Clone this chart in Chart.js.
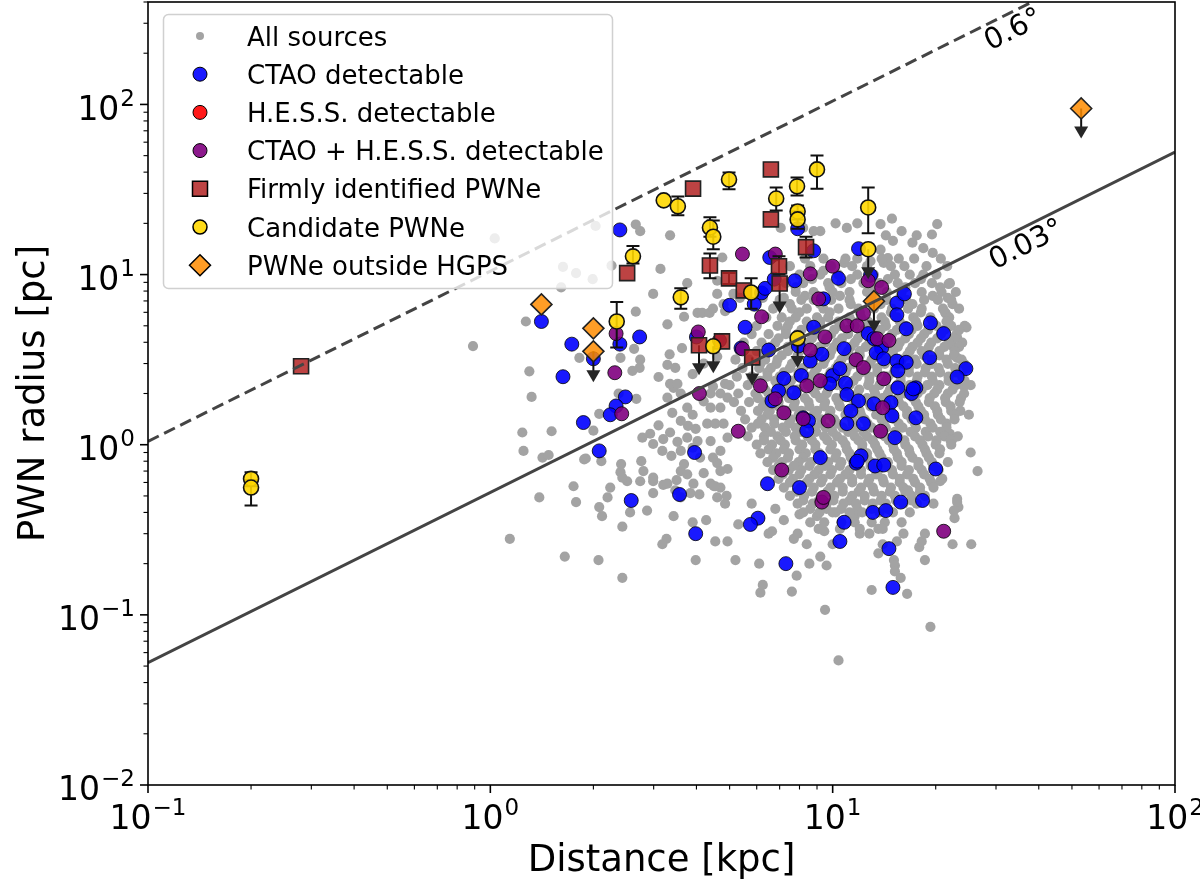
<!DOCTYPE html>
<html>
<head>
<meta charset="utf-8">
<title>PWN radius vs distance</title>
<script src="https://cdn.jsdelivr.net/npm/chart.js@4.4.1/dist/chart.umd.min.js"></script>
<style>
  html, body { margin: 0; padding: 0; background: #fff; }
  #wrap { width: 1200px; height: 887px; }
</style>
</head>
<body>
<div id="wrap"><canvas id="pwnChart" width="1200" height="887"></canvas></div>
<script>
// --- data: [distance kpc, radius pc] ---

// scattered "all sources" points
const grayScatter = [
  [0.89,3.8],[1.14,0.28],[1.39,0.49],[1.65,0.22],[2.07,0.21],[2.43,0.165],[1.75,0.57],[1.78,0.46],[2.08,0.43],[2.12,0.38],
  [2.2,0.49],[2.43,0.33],[2.56,0.4],[2.51,0.61],[2.4,0.69],[2.41,0.77],[2.76,0.8],[2.8,0.7],[2.99,0.61],[3.2,0.58],
  [2.87,0.41],[3.43,0.38],[3.27,0.28],[3.18,0.26],[3.9,0.35],[4.27,0.36],[3.98,0.21],[4.54,0.27],[4.93,0.27],[4.54,0.57],
  [4.6,0.49],[4.85,0.45],[3.6,0.7],[3.76,0.67],[3.92,0.59],[3.84,0.52],[4.08,0.51],[3.68,0.77],[4.6,0.78],[4.7,0.7],
  [4.93,0.72],[1.9,0.83],[1.42,0.84],[1.48,0.87],[1.25,0.92],[3.18,0.92],[3.38,0.86],[3.47,0.54],
  [1.27,5.3],[1.3,2.7],[1.32,1.91],[1.24,1.18],[1.51,1.2],[1.63,11.1],[1.78,10.2],[1.99,9.4],[1.82,3.24],[2.08,1.52],
  [2.0,1.21],[1.88,0.82],[2.11,0.8],[2.37,2.0],[2.67,1.86],[2.66,6.05],[2.63,3.66],[2.74,3.16],[2.73,2.83],[2.6,2.72],
  [2.4,3.24],[2.99,7.7],[3.14,10.8],[3.29,5.1],[3.29,2.95],[3.47,2.83],[3.34,3.4],[3.63,3.7],[3.76,8.9],[3.68,5.65],
  [4.03,5.95],[4.16,5.95],[4.37,5.95],[4.47,6.3],[4.8,6.7],[4.6,7.7],[3.43,2.16],[3.35,2.28],[3.52,2.28],[3.29,1.89],
  [3.6,2.0],[3.76,1.65],[3.78,1.29],[3.98,1.24],[4.3,1.33],[4.54,1.33],[4.8,1.33],[3.4,1.54],[3.6,1.38],[3.35,1.18],
  [3.2,1.08],[2.99,1.01],[2.93,1.16],[2.78,1.1],[3.52,1.04],[3.76,1.1],[4.03,1.05],[4.4,1.05],[4.93,1.1],[4.4,1.65],
  [4.7,1.65],[4.93,1.89],[4.4,2.0],[4.7,2.0],[4.47,2.2],[4.85,2.28],[3.6,0.92],[3.9,0.96],[4.1,0.84],[4.47,0.84],
  [4.7,0.92],[2.99,0.64],[2.74,0.61],[2.43,0.64],[2.24,0.56],[3.29,0.59],[2.99,0.52],[3.6,0.49],[4.4,0.59],[4.7,0.56],
  [3.1,1.3],[3.9,1.5],[4.2,1.8],[3.1,2.5],[3.9,2.6],[4.2,3.0],[4.6,3.3],[3.5,0.62],[4.2,0.68],[4.9,0.5],
  [1.03,16.3],[1.61,8.4],[2.03,19.3],[2.26,11.3],
  [2.66,19.7],[2.74,18.0],[3.35,17.0],[4.76,12.6],[4.6,9.2],[5.36,7.3],[5.13,7.7],[4.85,6.1],[7.05,18.8],[8.2,18.8],
  [8.8,18.0],[9.2,18.0],[10.2,20],[11.0,18.8],[11.8,20],[13.8,19.8],[14.3,17],[13.8,14],[12.9,12.0],[10.8,11.7],
  [9.4,10.5],[7.2,7.3],[6.25,7.3],[6.9,6.6],[14.5,12.5],
  [14.9,21.3],[15.9,18.0],[20.2,19.8],[19.5,17.2],[17.6,17.0],[15.0,15.8],[17.1,15.4],[18.4,14.3],[19.6,13.4],[14.1,11.7],
  [21.8,8.8],[21.7,7.3],[22.4,6.7],[21.4,5.9],[24.6,4.9],[23.1,4.25],[22.4,3.8],[23.1,3.24],[23.6,1.58],[22.0,1.16],
  [22.4,1.08],[23.1,0.48],[24.2,2.2],[25.0,1.5],[25.3,0.9],[26.5,0.7],[20.6,0.61],[16.6,0.54],
  [10.4,0.054],[9.5,0.107],[19.3,0.085],[6.15,0.135],[6.25,0.15],[7.6,0.137],[7.85,0.17],[13.0,0.14],[16.5,0.133],[8.55,0.2],
  [9.2,0.22],[9.6,0.195],[6.1,0.2],[5.2,0.21],[8.4,0.26],[7.7,0.28],[7.9,0.3],[9.45,0.31],[10,0.26],[12.0,0.3],
  [12.8,0.3],[13.6,0.32],[13.6,0.23],[14.0,0.26],[15.4,0.27],[16.1,0.3],[15.1,0.21],[15.2,0.195],[15.2,0.18],[15.8,0.165],
  [17.9,0.25],[18.2,0.27],[18.6,0.3],[18.6,0.21],[22.4,0.26],[25.4,0.26],[22.7,0.37],[23.3,0.43],[23.1,0.46],[22.6,0.41],
  [5.3,0.34],[4.5,0.57],[5.8,0.45],[6.8,0.42],[7.2,0.36],[6.65,0.31],[6.5,0.3],[8.0,0.39],[9.0,0.38],[10.2,0.4],[11.6,0.38]
];

// dense core of "all sources": [radius, [distances along that row]]
const grayCoreRows = [
  [12.4, [8.3, 9.4, 10.9, 11.8, 13.9, 15.6, 17.3, 20.7]],
  [11.2, [7.5, 8.6, 9.9, 11.4, 12.6, 14.8, 16.2, 18.8, 21.6]],
  [10.0, [8.0, 9.2, 10.4, 11.8, 13.2, 15.2, 16.8, 18.4, 20.1]],
  [9.4,  [8.7, 11.3, 14.5, 18.1]],
  [8.9,  [7.3, 8.2, 9.7, 10.6, 12.3, 13.7, 15.5, 17.4, 19.5, 22.0]],
  [8.4,  [7.8, 9.8, 12.9, 16.3, 20.6]],
  [7.9,  [7.8, 8.8, 10.0, 11.2, 12.6, 14.4, 15.9, 18.2, 20.8, 22.9]],
  [7.5,  [8.3, 10.5, 13.0, 15.8, 19.6]],
  [7.1,  [7.0, 8.1, 8.8, 9.9, 11.2, 12.9, 14.4, 16.4, 18.5, 20.3, 22.2]],
  [6.7,  [7.5, 9.2, 11.3, 13.8, 17.1]],
  [6.3,  [6.7, 7.6, 8.4, 9.4, 10.4, 11.9, 13.2, 14.9, 16.6, 18.2, 21.0, 23.4]],
  [6.0,  [8.0, 9.8, 12.0, 14.8, 18.1, 21.3]],
  [5.6,  [6.4, 7.1, 7.8, 9.0, 9.7, 11.2, 12.1, 13.9, 15.4, 17.2, 19.3, 21.9]],
  [5.3,  [7.5, 8.4, 9.2, 10.4, 11.4, 12.7, 14.2, 15.7, 17.5, 19.6, 21.5]],
  [5.0,  [6.0, 6.9, 7.4, 8.5, 9.2, 10.5, 11.6, 12.8, 14.3, 16.3, 17.7, 20.1, 22.2, 24.3]],
  [4.73, [7.3, 8.1, 9.0, 10.1, 11.1, 12.4, 13.8, 15.4, 17.0, 19.0, 21.2, 23.4]],
  [4.47, [5.8, 6.5, 7.3, 7.9, 8.9, 9.9, 11.1, 12.1, 13.5, 14.9, 16.7, 18.5, 20.7, 23.0]],
  [4.22, [6.95, 7.8, 8.7, 9.6, 10.65, 11.85, 13.1, 14.6, 16.3, 18.1, 20.2, 22.6]],
  [3.98, [5.5, 6.2, 6.8, 7.7, 8.5, 9.5, 10.3, 11.6, 12.8, 14.4, 15.7, 17.7, 19.4, 21.8, 23.9]],
  [3.76, [6.6, 7.4, 8.3, 9.15, 10.1, 11.3, 12.5, 13.9, 15.5, 17.1, 19.1, 21.2, 23.4]],
  [3.55, [5.35, 6.0, 6.5, 7.4, 8.0, 9.1, 9.9, 11.1, 12.0, 13.7, 15.0, 16.8, 18.2, 20.5, 22.7]],
  [3.35, [6.35, 7.1, 7.9, 8.8, 9.8, 10.9, 12.0, 13.4, 15.0, 16.5, 18.5, 20.5, 22.6]],
  [3.16, [5.2, 5.7, 6.35, 6.9, 7.8, 8.7, 9.5, 10.6, 11.6, 13.0, 14.3, 15.9, 17.4, 19.5, 21.5, 23.8]],
  [2.99, [6.15, 6.85, 7.6, 8.45, 9.4, 10.4, 11.5, 12.8, 14.2, 15.8, 17.6, 19.5, 21.7, 24.2]],
  [2.82, [5.45, 6.1, 6.6, 7.5, 8.2, 9.0, 10.2, 11.0, 12.5, 13.5, 15.2, 16.7, 18.7, 20.4, 22.8, 24.7]],
  [2.66, [6.45, 7.2, 7.95, 8.85, 9.85, 10.9, 12.1, 13.5, 15.1, 16.7, 18.6, 20.6, 22.9]],
  [2.51, [5.25, 5.8, 6.45, 7.0, 7.9, 8.6, 9.7, 10.6, 11.8, 12.8, 14.5, 15.8, 17.7, 19.5, 21.8, 23.9]],
  [2.37, [6.15, 6.8, 7.55, 8.45, 9.3, 10.4, 11.5, 12.8, 14.3, 15.8, 17.6, 19.6, 21.8, 24.3]],
  [2.24, [5.0, 5.65, 6.1, 6.9, 7.45, 8.45, 9.1, 10.3, 11.2, 12.7, 13.7, 15.4, 16.8, 18.9, 20.5, 22.9, 25.3]],
  [2.11, [6.35, 7.1, 7.9, 8.7, 9.7, 10.8, 11.95, 13.2, 14.7, 16.3, 18.2, 20.2, 22.4]],
  [2.0,  [5.3, 5.95, 6.5, 7.25, 7.85, 8.9, 9.6, 10.9, 11.8, 13.3, 14.5, 16.2, 17.7, 19.8, 21.7, 24.2]],
  [1.88, [6.05, 6.75, 7.45, 8.3, 9.2, 10.25, 11.35, 12.6, 14.0, 15.5, 17.2, 19.2, 21.3, 23.7]],
  [1.78, [5.15, 5.7, 6.35, 6.95, 7.75, 8.5, 9.5, 10.4, 11.7, 12.7, 14.3, 15.6, 17.5, 19.1, 21.4, 23.5]],
  [1.68, [6.25, 6.95, 7.7, 8.55, 9.45, 10.5, 11.7, 12.9, 14.4, 16.1, 17.8, 19.9, 22.1]],
  [1.58, [5.4, 6.05, 6.55, 7.35, 8.1, 9.0, 9.85, 11.1, 12.0, 13.5, 14.8, 16.5, 18.1, 20.2, 22.2]],
  [1.5,  [6.45, 7.2, 7.95, 8.8, 9.8, 10.9, 12.1, 13.4, 15.0, 16.5, 18.5, 20.3, 22.7]],
  [1.41, [5.55, 6.2, 6.75, 7.55, 8.25, 9.25, 10.1, 11.4, 12.4, 13.9, 15.2, 17.0, 18.6, 20.7, 22.7]],
  [1.33, [6.05, 6.75, 7.45, 8.3, 9.25, 10.3, 11.45, 12.65, 14.1, 15.6, 17.4, 19.3, 21.5]],
  [1.26, [5.8, 6.35, 7.15, 7.8, 8.75, 9.55, 10.7, 11.7, 13.0, 14.3, 16.0, 17.5, 19.6, 21.5]],
  [1.19, [6.6, 7.3, 8.1, 8.95, 10.0, 11.1, 12.3, 13.7, 15.2, 16.9, 18.7, 20.6]],
  [1.12, [5.65, 6.3, 6.9, 7.75, 8.45, 9.45, 10.3, 11.6, 12.6, 14.2, 15.5, 17.4, 19.0, 21.2, 23.2]],
  [1.06, [6.3, 7.05, 7.8, 8.7, 9.65, 10.7, 11.9, 13.1, 14.6, 16.2, 18.0, 20.1, 22.1]],
  [1.0,  [6.0, 6.65, 7.25, 8.15, 8.9, 9.95, 10.9, 12.2, 13.3, 15.0, 16.3, 18.3, 20.0, 22.2]],
  [0.94, [6.5, 7.2, 8.0, 8.9, 9.85, 11.0, 12.2, 13.5, 15.1, 16.7, 18.6, 20.6]],
  [0.89, [6.15, 6.85, 7.45, 8.35, 9.15, 10.25, 11.2, 12.6, 13.7, 15.4, 16.8, 18.8, 20.5]],
  [0.84, [6.7, 7.4, 8.2, 9.15, 10.2, 11.3, 12.6, 13.9, 15.5, 17.1, 19.1]],
  [0.79, [6.45, 7.1, 7.95, 8.65, 9.7, 10.6, 11.9, 12.9, 14.5, 15.9, 17.8, 19.5, 21.7]],
  [0.75, [6.95, 7.7, 8.55, 9.5, 10.5, 11.7, 12.9, 14.4, 15.9, 17.8, 19.7]],
  [0.71, [6.7, 7.45, 8.1, 9.1, 9.95, 11.2, 12.1, 13.6, 14.9, 16.7, 18.2, 20.4]],
  [0.67, [7.15, 8.0, 8.85, 9.85, 10.9, 12.1, 13.4, 15.0, 16.5, 18.5]],
  [0.63, [6.95, 7.65, 8.55, 9.35, 10.5, 11.4, 12.8, 14.0, 15.7, 17.2, 19.2, 20.9]],
  [0.6,  [7.5, 8.4, 9.25, 10.3, 11.4, 12.7, 14.1, 15.7, 17.4, 19.4]],
  [0.56, [7.2, 8.05, 8.8, 9.85, 10.7, 12.1, 13.1, 14.8, 16.1, 18.0, 19.7]],
  [0.53, [7.85, 8.7, 9.65, 10.7, 11.9, 13.2, 14.7, 16.3, 18.0]],
  [0.5,  [7.5, 8.25, 9.25, 10.1, 11.4, 12.4, 13.9, 15.2, 17.0, 18.6]],
  [0.47, [8.2, 9.1, 10.05, 11.2, 12.4, 13.8, 15.3, 17.0]],
  [0.45, [7.9, 8.75, 9.6, 10.75, 11.7, 13.1, 14.3, 16.1, 17.6, 19.7]],
  [0.42, [8.6, 9.6, 10.6, 11.8, 13.0, 14.5]],
  [0.4,  [8.2, 9.15, 10.0, 11.2, 12.2, 13.7, 15.0, 16.8]],
  [0.35, [8.6, 9.45, 10.6, 11.6, 13.0, 14.2, 15.9]],
  [0.32, [9.1, 10.5, 12.0, 14.0]]
];

const ctaoPoints = [
  [1.41,5.3],[1.73,3.9],[1.63,2.51],[2.0,3.2],[2.73,4.3],[2.39,3.9],[2.48,1.91],[2.33,1.69],[2.24,1.5],[1.87,1.35],
  [2.08,0.92],[3.95,0.9],[3.57,0.51],[2.58,0.47],[4.0,4.3],[5.0,6.6],[2.39,18.3],[3.98,0.3],
  [9.2,0.84],[12.1,0.86],[11.7,0.78],[13.3,0.75],[14.1,0.76],[20,0.72],[6.45,0.59],[8.0,0.56],[6.05,0.37],[5.75,0.34],
  [10.8,0.35],[10.5,0.27],[13.1,0.4],[14.3,0.41],[15.8,0.46],[18.3,0.47],[14.6,0.245],[7.3,0.2],[15.0,0.145],
  [5.55,4.9],[6.2,7.8],[6.35,8.3],[5.9,6.7],[7.75,9.2],[10.4,9.5],[9.4,7.2],[8.8,4.9],[7.94,3.8],[8.6,3.1],
  [9.3,3.4],[6.5,3.6],[7.2,2.45],[8.1,2.55],[6.95,2.07],[6.65,1.81],[7.7,2.02],[8.2,1.44],[8.5,1.38],[8.4,1.21],
  [10,2.55],[10.5,2.8],[10.9,2.3],[9.8,2.28],[11.0,1.97],[11.9,1.81],[11.3,1.58],[13.2,1.74],[12.3,1.33],[11.0,1.33],
  [11.8,0.8],[10.8,3.67],[12.7,4.5],[13.2,4.2],[13.9,3.7],[13.4,3.47],[14.1,3.2],[15.4,6.8],[16.2,7.7],[15.4,5.8],
  [16.4,4.8],[15.4,3.1],[16.4,3.05],[15.5,2.72],[15.5,2.16],[17.0,2.0],[17.5,2.16],[14.8,1.77],[14.9,1.48],[17.5,1.44],
  [15.2,1.1],[19.3,5.2],[21.1,4.5],[19.2,3.25],[24.5,2.8],[23.1,2.5],[17.2,2.13],[5.4,3.7],[7.9,18.6],[8.8,13.8],
  [6.55,12.6],[6.75,9.4],[11.9,14.2],[12.9,9.9]
];

const hessPoints = [];

const bothPoints = [
  [2.33,4.5],[2.31,2.65],[2.42,1.52],[4.05,4.6],[4.67,4.1],[4.08,2.0],[7.1,0.71],[9.3,0.46],[21.1,0.31],[5.45,13.2],
  [6.8,13.2],[8.6,10.1],[10,11.2],[9.1,7.2],[6.2,5.65],[5.45,3.66],[6.15,2.22],[6.8,1.86],[7.2,1.54],[8.2,1.42],
  [9.7,1.38],[8.4,2.22],[9.2,2.38],[11.0,5.0],[11.8,5.0],[9.5,4.3],[12.3,5.9],[13.5,4.2],[14.6,4.1],[8.6,3.6],
  [11.7,3.16],[12.3,2.84],[14.1,2.44],[14.0,1.65],[13.8,1.2],[5.3,1.2],[9.4,0.49],[13.9,8.4],[12.7,9.2]
];

// [distance, radius, lower, upper, upperLimit]
const firmPWNe = [
  [0.28,2.89,null,null,0],[3.91,32,null,null,0],[6.6,41.5,null,null,0],[6.6,21.1,null,null,0],
  [8.36,14.5,12.6,16.7,0],[2.51,10.2,null,null,0],[4.38,11.3,9.5,13.3,0],[4.98,9.5,8.8,10.2,0],
  [5.5,8.07,null,null,0],[6.97,11.2,10.0,12.8,0],[7.0,8.87,5.9,null,1],[4.07,3.84,2.56,null,1],
  [5.82,3.26,2.23,null,1],[4.75,4.05,null,null,0]
];

const candidatePWNe = [
  [0.2,0.63,0.57,0.69,0],[0.2,0.56,0.44,0.62,0],[3.21,27.3,null,null,0],[3.53,25.2,22.3,28.8,0],
  [4.98,36.2,31.7,39.8,0],[7.87,33,29.2,37.2,0],[9.0,41.5,32,50.1,0],[6.84,28,23.8,32.5,0],
  [7.9,23.5,21.1,25.5,0],[7.9,21.1,18.6,23.5,0],[12.7,24.8,17.5,32.5,0],[12.7,14.1,9.4,null,1],
  [4.38,18.9,16.7,21.7,0],[4.48,16.7,14.1,20.8,0],[2.61,12.8,11.6,14.7,0],[3.6,7.35,6.3,8.3,0],
  [5.78,7.85,6.3,9.5,0],[2.34,5.3,3.73,6.9,0],[4.48,3.79,2.63,null,1],[7.9,4.22,2.82,null,1]
];

const outsideHGPS = [
  [1.41,6.68,null,null,0],[2.0,4.83,null,null,0],[2.0,3.54,2.33,null,1],
  [13.2,6.97,4.57,null,1],[53.2,94.7,63,null,1]
];

// constant angular size lines
const lineDist = [0.1, 100];
const line06Radius = [1.047, 1047];
const line003Radius = [0.0524, 52.4];

const xTickExps = [-1, 0, 1, 2];
const yTickExps = [-2, -1, 0, 1, 2];

const legendLabels = ['All sources', 'CTAO detectable', 'H.E.S.S. detectable', 'CTAO + H.E.S.S. detectable',
  'Firmly identified PWNe', 'Candidate PWNe', 'PWNe outside HGPS'];

const FONT = '"DejaVu Sans", Verdana, sans-serif';
const TICK_SIZE = 33;
const COLORS = {
  gray: '#a3a3a3',
  blue: 'rgba(0,0,255,0.9)',
  red: 'rgba(255,0,0,0.9)',
  purple: 'rgba(128,0,128,0.9)',
  firm: 'rgba(178,34,34,0.85)',
  cand: 'rgba(255,215,0,0.9)',
  orange: 'rgba(255,140,0,0.85)',
  line: '#444444'
};

function toXY(list) {
  return list.map(p => ({ x: p[0], y: p[1] }));
}

const grayData = toXY(grayScatter);
grayCoreRows.forEach(row => row[1].forEach(d => grayData.push({ x: d, y: row[0] })));

function drawErrors(chart) {
  const ctx = chart.ctx, xs = chart.scales.x, ys = chart.scales.y;
  ctx.save();
  ctx.strokeStyle = '#111';
  ctx.fillStyle = '#262626';
  ctx.lineWidth = 2;
  [firmPWNe, candidatePWNe, outsideHGPS].forEach(list => list.forEach(p => {
    const x = xs.getPixelForValue(p[0]);
    if (p[4]) {
      const y0 = ys.getPixelForValue(p[1]), y1 = ys.getPixelForValue(p[2]);
      ctx.beginPath(); ctx.moveTo(x, y0); ctx.lineTo(x, y1 - 6); ctx.stroke();
      ctx.beginPath();
      ctx.moveTo(x - 7, y1 - 12); ctx.lineTo(x + 7, y1 - 12); ctx.lineTo(x, y1);
      ctx.closePath(); ctx.fill();
    } else if (p[2] !== null) {
      const yl = ys.getPixelForValue(p[2]), yh = ys.getPixelForValue(p[3]);
      ctx.beginPath();
      ctx.moveTo(x, yl); ctx.lineTo(x, yh);
      ctx.moveTo(x - 6.5, yl); ctx.lineTo(x + 6.5, yl);
      ctx.moveTo(x - 6.5, yh); ctx.lineTo(x + 6.5, yh);
      ctx.stroke();
    }
  }));
  ctx.restore();
}

function drawPower(ctx, exp, x, baseline, align) {
  const sup = exp < 0 ? '\u2212' + (-exp) : String(exp);
  const supSize = Math.round(TICK_SIZE * 0.7);
  ctx.font = TICK_SIZE + 'px ' + FONT;
  const wb = ctx.measureText('10').width;
  ctx.font = supSize + 'px ' + FONT;
  const ws = ctx.measureText(sup).width;
  const total = wb + 1 + ws;
  const left = align === 'right' ? x - total : x - total / 2;
  ctx.textAlign = 'left';
  ctx.textBaseline = 'alphabetic';
  ctx.font = TICK_SIZE + 'px ' + FONT;
  ctx.fillText('10', left, baseline);
  ctx.font = supSize + 'px ' + FONT;
  ctx.fillText(sup, left + wb + 1, baseline - TICK_SIZE * 0.42);
}

function drawAngleLabel(chart, text, d, radii) {
  const ctx = chart.ctx, xs = chart.scales.x, ys = chart.scales.y;
  const x1 = xs.getPixelForValue(lineDist[0]), x2 = xs.getPixelForValue(lineDist[1]);
  const y1 = ys.getPixelForValue(radii[0]), y2 = ys.getPixelForValue(radii[1]);
  const ang = Math.atan2(y2 - y1, x2 - x1);
  const px = xs.getPixelForValue(d);
  const py = y1 + (y2 - y1) * (px - x1) / (x2 - x1);
  ctx.save();
  ctx.translate(px, py);
  ctx.rotate(ang);
  ctx.fillStyle = '#000';
  ctx.font = '29px ' + FONT;
  ctx.textAlign = 'center';
  ctx.textBaseline = 'top';
  ctx.fillText(text, 0, 3);
  ctx.restore();
}

function legendMarker(ctx, i, x, y) {
  ctx.lineWidth = 1;
  ctx.strokeStyle = '#000';
  ctx.beginPath();
  if (i === 0) {
    ctx.fillStyle = COLORS.gray;
    ctx.arc(x, y, 4, 0, Math.PI * 2); ctx.fill();
    return;
  }
  if (i === 4) {
    ctx.fillStyle = COLORS.firm; ctx.lineWidth = 1.5;
    ctx.rect(x - 7.5, y - 7.5, 15, 15);
  } else if (i === 6) {
    ctx.fillStyle = COLORS.orange; ctx.lineWidth = 1.5;
    ctx.moveTo(x, y - 10.5); ctx.lineTo(x + 10.5, y); ctx.lineTo(x, y + 10.5); ctx.lineTo(x - 10.5, y); ctx.closePath();
  } else {
    ctx.fillStyle = [null, COLORS.blue, COLORS.red, COLORS.purple, null, COLORS.cand][i];
    if (i === 5) ctx.lineWidth = 1.5;
    ctx.arc(x, y, 7, 0, Math.PI * 2);
  }
  ctx.fill(); ctx.stroke();
}

const decor = {
  id: 'decor',
  beforeDatasetDraw(chart, args) {
    if (chart.data.datasets[args.index].label === 'Firmly identified PWNe') drawErrors(chart);
  },
  afterDraw(chart) {
    const ctx = chart.ctx, xs = chart.scales.x, ys = chart.scales.y;
    const a = chart.chartArea;
    ctx.save();

    drawAngleLabel(chart, '0.6\u00b0', 32.1, line06Radius);
    drawAngleLabel(chart, '0.03\u00b0', 35.0, line003Radius);

    // frame
    ctx.strokeStyle = '#000';
    ctx.lineWidth = 1.6;
    ctx.strokeRect(a.left, a.top, a.right - a.left, a.bottom - a.top);

    // ticks
    ctx.fillStyle = '#000';
    for (let e = -2; e <= 2; e++) {
      for (let m = 1; m <= 9; m++) {
        const v = m * Math.pow(10, e);
        const major = m === 1;
        ctx.lineWidth = major ? 1.6 : 1.1;
        const len = major ? 8 : 4.5;
        if (v >= 0.1 && v <= 100) {
          const x = xs.getPixelForValue(v);
          ctx.beginPath(); ctx.moveTo(x, a.bottom); ctx.lineTo(x, a.bottom + len); ctx.stroke();
        }
        if (v >= 0.01 && v <= 400) {
          const y = ys.getPixelForValue(v);
          ctx.beginPath(); ctx.moveTo(a.left, y); ctx.lineTo(a.left - len, y); ctx.stroke();
        }
      }
    }
    xTickExps.forEach(e => {
      drawPower(ctx, e, xs.getPixelForValue(Math.pow(10, e)), a.bottom + 13 + TICK_SIZE * 0.93, 'center');
    });
    yTickExps.forEach(e => {
      drawPower(ctx, e, a.left - 13, ys.getPixelForValue(Math.pow(10, e)) + TICK_SIZE * 0.465, 'right');
    });

    // axis titles
    ctx.font = '37px ' + FONT;
    ctx.textAlign = 'center';
    ctx.textBaseline = 'alphabetic';
    ctx.fillText('Distance [kpc]', (a.left + a.right) / 2, 871);
    ctx.save();
    ctx.translate(44, (a.top + a.bottom) / 2);
    ctx.rotate(-Math.PI / 2);
    ctx.fillText('PWN radius [pc]', 0, 0);
    ctx.restore();

    // legend
    const lx = 163.5, ly = 14.5, lw = 449, lh = 274;
    ctx.beginPath();
    ctx.roundRect(lx, ly, lw, lh, 5);
    ctx.fillStyle = 'rgba(255,255,255,0.8)';
    ctx.fill();
    ctx.strokeStyle = '#d0d0d0';
    ctx.lineWidth = 1.5;
    ctx.stroke();
    legendLabels.forEach((txt, i) => {
      const y = 36 + i * 38.2;
      legendMarker(ctx, i, 200, y);
      ctx.fillStyle = '#000';
      ctx.font = '26px ' + FONT;
      ctx.textAlign = 'left';
      ctx.textBaseline = 'alphabetic';
      ctx.fillText(txt, 247, y + 9.5);
    });
    ctx.restore();
  }
};

new Chart(document.getElementById('pwnChart'), {
  type: 'scatter',
  data: {
    datasets: [
      { label: 'All sources', data: grayData, pointRadius: 5.1, backgroundColor: COLORS.gray,
        borderWidth: 0, order: 10 },
      { label: 'CTAO detectable', data: toXY(ctaoPoints), pointRadius: 7, backgroundColor: COLORS.blue,
        borderColor: '#000', borderWidth: 0.8, order: 9 },
      { label: 'H.E.S.S. detectable', data: toXY(hessPoints), pointRadius: 7, backgroundColor: COLORS.red,
        borderColor: '#000', borderWidth: 0.8, order: 8 },
      { label: 'CTAO + H.E.S.S. detectable', data: toXY(bothPoints), pointRadius: 7, backgroundColor: COLORS.purple,
        borderColor: '#000', borderWidth: 0.8, order: 7 },
      { label: 'Firmly identified PWNe', data: toXY(firmPWNe), pointStyle: 'rect', pointRadius: 10.6,
        backgroundColor: COLORS.firm, borderColor: '#222', borderWidth: 1.6, order: 6 },
      { label: 'Candidate PWNe', data: toXY(candidatePWNe), pointRadius: 7.5, backgroundColor: COLORS.cand,
        borderColor: '#111', borderWidth: 1.6, order: 5 },
      { label: 'PWNe outside HGPS', data: toXY(outsideHGPS), pointStyle: 'rectRot', pointRadius: 10.5,
        backgroundColor: COLORS.orange, borderColor: '#222', borderWidth: 1.6, order: 4 },
      { label: '0.6 deg', data: lineDist.map((d, i) => ({ x: d, y: line06Radius[i] })), showLine: true,
        borderColor: COLORS.line, borderWidth: 3, borderDash: [12, 6], pointRadius: 0, order: 2 },
      { label: '0.03 deg', data: lineDist.map((d, i) => ({ x: d, y: line003Radius[i] })), showLine: true,
        borderColor: COLORS.line, borderWidth: 3, pointRadius: 0, order: 1 }
    ]
  },
  options: {
    responsive: false,
    animation: false,
    devicePixelRatio: 1,
    events: [],
    layout: { autoPadding: false, padding: { left: 148, right: 25, top: 2, bottom: 102 } },
    scales: {
      x: { type: 'logarithmic', min: 0.1, max: 100, display: false },
      y: { type: 'logarithmic', min: 0.01, max: 400, display: false }
    },
    plugins: {
      legend: { display: false },
      tooltip: { enabled: false }
    }
  },
  plugins: [decor]
});
</script>
</body>
</html>
